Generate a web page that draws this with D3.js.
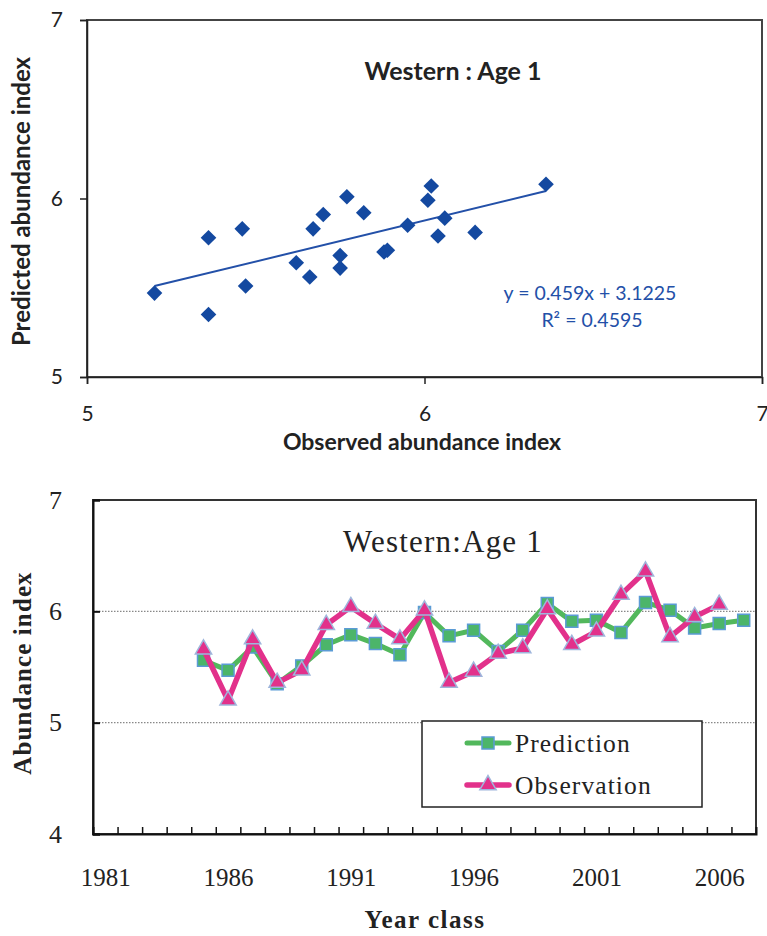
<!DOCTYPE html>
<html>
<head>
<meta charset="utf-8">
<script src="https://d3js.org/d3.v7.min.js"></script>
<style>
  body { margin: 0; background: #fff; }
  svg { display: block; }
</style>
</head>
<body>
<div id="vis"></div>
<script>
// year classes and the two series (Western, age 1)
const obsYears = d3.range(1985, 2007)      // 1985..2006
const predYears = d3.range(1985, 2008)     // 1985..2007
const observed = [5.66, 5.20, 5.75, 5.36, 5.47, 5.88, 6.04, 5.89, 5.75, 6.01, 5.36,
                  5.46, 5.62, 5.67, 6.02, 5.70, 5.82, 6.15, 6.36, 5.77, 5.95, 6.06]
const predicted = [5.56, 5.47, 5.68, 5.35, 5.51, 5.70, 5.79, 5.71, 5.61, 5.99, 5.78,
                   5.83, 5.64, 5.83, 6.07, 5.91, 5.92, 5.81, 6.08, 6.01, 5.85, 5.89, 5.92]
const slope = 0.459, intercept = 3.1225, r2 = 0.4595
const scatterTicks = [5, 6, 7]
const lineYTicks = [4, 5, 6, 7]
const yearLabels = [1981, 1986, 1991, 1996, 2001, 2006]

const W = 767, H = 936
const svg = d3.select("#vis").append("svg").attr("width", W).attr("height", H)

// ---------- top: scatter ----------
const m1 = {left: 87, right: 762, top: 20, bottom: 377}
const sans = "Lato, 'Open Sans', sans-serif"
const blue = "#1449a0"

const x1 = d3.scaleLinear([5, 7], [m1.left, m1.right])
const y1 = d3.scaleLinear([5, 7], [m1.bottom, m1.top])

const g1 = svg.append("g")

g1.append("rect")
  .attr("x", m1.left).attr("y", m1.top)
  .attr("width", m1.right - m1.left).attr("height", m1.bottom - m1.top)
  .attr("fill", "none").attr("stroke", "#444").attr("stroke-width", 2)

g1.append("g")
  .attr("transform", `translate(0,${m1.bottom})`)
  .call(d3.axisBottom(x1).tickValues(scatterTicks).tickSize(7).tickPadding(22).tickFormat(d3.format("d")))
  .call(g => g.selectAll("path,line").attr("stroke", "#222").attr("stroke-width", 1.5))
  .call(g => g.selectAll("text").attr("font-family", sans).attr("font-size", 21).attr("fill", "#222"))

g1.append("g")
  .attr("transform", `translate(${m1.left},0)`)
  .call(d3.axisLeft(y1).tickValues(scatterTicks).tickSize(7).tickPadding(17).tickFormat(d3.format("d")))
  .call(g => g.selectAll("path,line").attr("stroke", "#222").attr("stroke-width", 1.5))
  .call(g => g.selectAll("text").attr("font-family", sans).attr("font-size", 21).attr("fill", "#222"))

const pairs = observed.map((o, i) => [o, predicted[i]])
const xs = d3.extent(observed)

g1.append("line")
  .attr("x1", x1(xs[0])).attr("y1", y1(slope * xs[0] + intercept))
  .attr("x2", x1(xs[1])).attr("y2", y1(slope * xs[1] + intercept))
  .attr("stroke", "#2350a8").attr("stroke-width", 2)

g1.append("g").selectAll("path")
  .data(pairs)
  .join("path")
  .attr("d", d3.symbol(d3.symbolSquare, 122))
  .attr("transform", d => `translate(${x1(d[0])},${y1(d[1])}) rotate(45)`)
  .attr("fill", blue)

g1.append("text")
  .attr("x", 453).attr("y", 80)
  .attr("text-anchor", "middle")
  .attr("font-family", sans).attr("font-weight", "bold").attr("font-size", 25)
  .attr("fill", "#222")
  .text("Western : Age 1")

g1.append("text")
  .attr("x", 590).attr("y", 300)
  .attr("text-anchor", "middle")
  .attr("font-family", sans).attr("font-size", 19.5).attr("fill", "#2350a8")
  .text(`y = ${slope}x + ${intercept}`)

g1.append("text")
  .attr("x", 592).attr("y", 327)
  .attr("text-anchor", "middle")
  .attr("font-family", sans).attr("font-size", 19.5).attr("fill", "#2350a8")
  .text(`R² = ${r2}`)

g1.append("text")
  .attr("x", 422).attr("y", 450)
  .attr("text-anchor", "middle")
  .attr("font-family", sans).attr("font-weight", "bold").attr("font-size", 23)
  .attr("fill", "#222")
  .text("Observed abundance index")

g1.append("text")
  .attr("transform", `translate(30,${(m1.top + m1.bottom) / 2 + 3}) rotate(-90)`)
  .attr("text-anchor", "middle")
  .attr("font-family", sans).attr("font-weight", "bold").attr("font-size", 24)
  .attr("fill", "#222")
  .text("Predicted abundance index")

// ---------- bottom: time series ----------
const m2 = {left: 93, right: 756, top: 500, bottom: 834}
const serif = "'Liberation Serif', 'DejaVu Serif', serif"
const green = "#52b85c", greenFill = "#4cb56a", sqStroke = "#5b9bd5"
const pink = "#e2318b", triStroke = "#9fb6dc"

const x2 = d3.scaleLinear([1980.5, 2007.5], [m2.left, m2.right])
const y2 = d3.scaleLinear([4, 7], [m2.bottom, m2.top])

const g2 = svg.append("g")

// dotted gridlines
g2.append("g").selectAll("line")
  .data([5, 6])
  .join("line")
  .attr("x1", m2.left).attr("x2", m2.right)
  .attr("y1", d => y2(d)).attr("y2", d => y2(d))
  .attr("stroke", "#888").attr("stroke-width", 1.2).attr("stroke-dasharray", "1.5,1.5")

g2.append("rect")
  .attr("x", m2.left).attr("y", m2.top)
  .attr("width", m2.right - m2.left).attr("height", m2.bottom - m2.top)
  .attr("fill", "none").attr("stroke", "#333").attr("stroke-width", 2)

// tick marks between year classes
g2.append("g")
  .attr("transform", `translate(0,${m2.bottom})`)
  .call(d3.axisBottom(x2).tickValues(d3.range(1981.5, 2007, 1)).tickSize(-7).tickFormat(""))
  .call(g => g.select(".domain").attr("stroke", "#111").attr("stroke-width", 2))
  .call(g => g.selectAll("line").attr("stroke", "#111").attr("stroke-width", 1.5))

g2.append("g")
  .attr("transform", `translate(0,${m2.bottom})`)
  .call(d3.axisBottom(x2).tickValues(yearLabels).tickSize(0).tickPadding(34).tickFormat(d3.format("d")))
  .call(g => g.select(".domain").remove())
  .call(g => g.selectAll("text").attr("font-family", serif).attr("font-size", 25).attr("fill", "#222"))

g2.append("g")
  .attr("transform", `translate(${m2.left},0)`)
  .call(d3.axisLeft(y2).tickValues(lineYTicks).tickSize(-7).tickPadding(31).tickFormat(d3.format("d")))
  .call(g => g.select(".domain").attr("stroke", "#111").attr("stroke-width", 2))
  .call(g => g.selectAll("line").attr("stroke", "#111").attr("stroke-width", 2))
  .call(g => g.selectAll("text").attr("font-family", serif).attr("font-size", 26).attr("fill", "#222"))

const predPts = predYears.map((yr, i) => [yr, predicted[i]])
const obsPts = obsYears.map((yr, i) => [yr, observed[i]])
const line = d3.line().x(d => x2(d[0])).y(d => y2(d[1]))

g2.append("path").datum(predPts)
  .attr("d", line).attr("fill", "none")
  .attr("stroke", green).attr("stroke-width", 5).attr("stroke-linejoin", "round")

g2.append("g").selectAll("path")
  .data(predPts)
  .join("path")
  .attr("d", d3.symbol(d3.symbolSquare, 144))
  .attr("transform", d => `translate(${x2(d[0])},${y2(d[1])})`)
  .attr("fill", greenFill).attr("stroke", sqStroke).attr("stroke-width", 1.5)

g2.append("path").datum(obsPts)
  .attr("d", line).attr("fill", "none")
  .attr("stroke", pink).attr("stroke-width", 5.5).attr("stroke-linejoin", "round")

g2.append("g").selectAll("path")
  .data(obsPts)
  .join("path")
  .attr("d", d3.symbol(d3.symbolTriangle, 115))
  .attr("transform", d => `translate(${x2(d[0])},${y2(d[1])})`)
  .attr("fill", pink).attr("stroke", triStroke).attr("stroke-width", 1.5)

// title
g2.append("text")
  .attr("x", 443).attr("y", 552)
  .attr("text-anchor", "middle")
  .attr("font-family", serif).attr("font-size", 31).attr("letter-spacing", 1.2)
  .attr("fill", "#222")
  .text("Western:Age 1")

// legend
const lg = g2.append("g")
lg.append("rect")
  .attr("x", 422).attr("y", 721).attr("width", 280).attr("height", 86)
  .attr("fill", "#fff").attr("stroke", "#222").attr("stroke-width", 1.5)

const legendItems = [
  {label: "Prediction", color: green, fill: greenFill, stroke: sqStroke, sym: d3.symbolSquare, size: 144, w: 5, y: 743},
  {label: "Observation", color: pink, fill: pink, stroke: triStroke, sym: d3.symbolTriangle, size: 115, w: 5.5, y: 785}
]
legendItems.forEach(d => {
  lg.append("line")
    .attr("x1", 467).attr("x2", 509).attr("y1", d.y).attr("y2", d.y)
    .attr("stroke", d.color).attr("stroke-width", d.w).attr("stroke-linecap", "round")
  lg.append("path")
    .attr("d", d3.symbol(d.sym, d.size))
    .attr("transform", `translate(488,${d.y})`)
    .attr("fill", d.fill).attr("stroke", d.stroke).attr("stroke-width", 1.5)
  lg.append("text")
    .attr("x", 515).attr("y", d.y + 9)
    .attr("font-family", serif).attr("font-size", 25.5).attr("letter-spacing", 1.1)
    .attr("fill", "#222")
    .text(d.label)
})

// axis titles
g2.append("text")
  .attr("x", 425).attr("y", 928)
  .attr("text-anchor", "middle")
  .attr("font-family", serif).attr("font-weight", "bold").attr("font-size", 25).attr("letter-spacing", 1.5)
  .attr("fill", "#222")
  .text("Year class")

g2.append("text")
  .attr("transform", `translate(31,${(m2.top + m2.bottom) / 2 + 6}) rotate(-90)`)
  .attr("text-anchor", "middle")
  .attr("font-family", serif).attr("font-weight", "bold").attr("font-size", 25).attr("letter-spacing", 1.1)
  .attr("fill", "#222")
  .text("Abundance index")
</script>
</body>
</html>
